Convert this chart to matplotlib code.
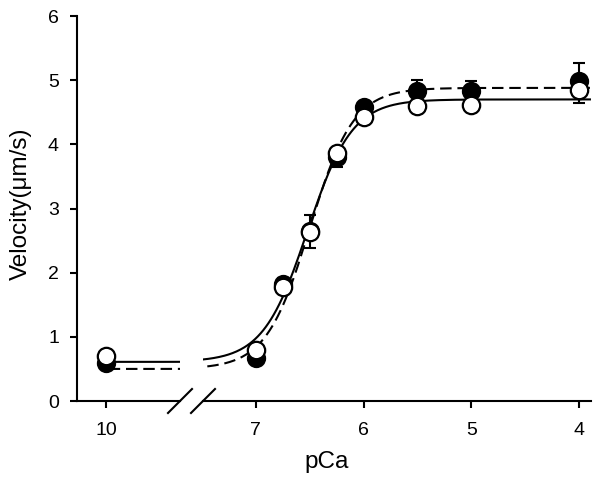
import numpy as np
import matplotlib
matplotlib.use("Agg")
import matplotlib.pyplot as plt

plt.rcParams['font.family'] = ['Liberation Sans', 'DejaVu Sans']

# measured points
pca = [10, 7, 6.75, 6.5, 6.25, 6, 5.5, 5, 4]
v_filled = [0.59, 0.67, 1.82, 2.65, 3.80, 4.58, 4.83, 4.83, 4.98]
v_open = [0.70, 0.80, 1.78, 2.63, 3.86, 4.43, 4.60, 4.62, 4.84]
err_filled = [0.02, 0.03, 0.10, 0.25, 0.0, 0.03, 0.17, 0.15, 0.28]
err_open = [0.02, 0.03, 0.05, 0.25, 0.22, 0.03, 0.05, 0.05, 0.19]

# Hill fit parameters (Vmin, Vmax, pCa50, nH)
fit_filled = (0.50, 4.88, 6.50, 2.15)
fit_open = (0.61, 4.70, 6.52, 2.1)


def hill(p, vmin, vmax, p50, n):
    return vmin + (vmax - vmin) / (1 + 10 ** (n * (p - p50)))


fig = plt.figure(figsize=(6.02, 4.83), dpi=100)
W, H = 602, 483
bottom = 1 - 401 / H
height = (401 - 16) / H
axL = fig.add_axes([77 / W, bottom, (180 - 77) / W, height])
axR = fig.add_axes([203 / W, bottom, (591 - 203) / W, height])

axL.set_xlim(10.58, 8.53)
axR.set_xlim(7.49, 3.89)

lw = 1.5
for ax, lo, hi in [(axL, 8.0, 10.0), (axR, 3.9, 7.6)]:
    p = np.linspace(lo, hi, 300)
    ax.plot(p, hill(p, *fit_open), color='black', lw=lw, zorder=2)
    ax.plot(p, hill(p, *fit_filled), color='black', lw=lw, ls=(0, (5.5, 2.8)), zorder=2)
    ax.errorbar(pca, v_filled, yerr=[np.zeros(len(pca)), err_filled], fmt='none',
                ecolor='black', elinewidth=lw, capsize=4.5, capthick=lw, zorder=3)
    ax.errorbar(pca, v_open, yerr=[err_open, np.zeros(len(pca))], fmt='none',
                ecolor='black', elinewidth=lw, capsize=4.5, capthick=lw, zorder=3)
    ax.plot(pca, v_filled, 'o', ms=12.5, mfc='black', mec='black', mew=1.4, zorder=4,
            clip_on=False)
    ax.plot(pca, v_open, 'o', ms=12.5, mfc='white', mec='black', mew=1.6, zorder=5,
            clip_on=False)
    ax.set_ylim(0, 6)
    ax.spines['top'].set_visible(False)
    ax.spines['right'].set_visible(False)
    ax.spines['bottom'].set_linewidth(lw)
    ax.spines['left'].set_linewidth(lw)
    ax.tick_params(direction='out', length=5, width=lw, labelsize=14)

axL.set_xticks([10])
axL.set_yticks([0, 1, 2, 3, 4, 5, 6])
axL.tick_params(axis='y', pad=8)
axL.tick_params(axis='x', pad=10)
axR.set_xticks([7, 6, 5, 4])
axR.tick_params(axis='x', pad=10)
axR.spines['left'].set_visible(False)
axR.tick_params(axis='y', left=False, labelleft=False)

# break marks
for ax, wpx, xa in [(axL, 180 - 77, 1.0), (axR, 591 - 203, 0.0)]:
    dx = 12 / wpx
    dy = 12 / 385
    ax.plot([xa - dx, xa + dx], [-dy, dy], transform=ax.transAxes,
            color='black', lw=lw, clip_on=False)

fig.text(327 / W, 1 - 462 / H, 'pCa', ha='center', va='center', fontsize=17.5)
fig.text(21 / W, 1 - 204 / H, 'Velocity(μm/s)', ha='center', va='center',
         rotation=90, fontsize=17.5)

fig.savefig('out.png', dpi=100)
